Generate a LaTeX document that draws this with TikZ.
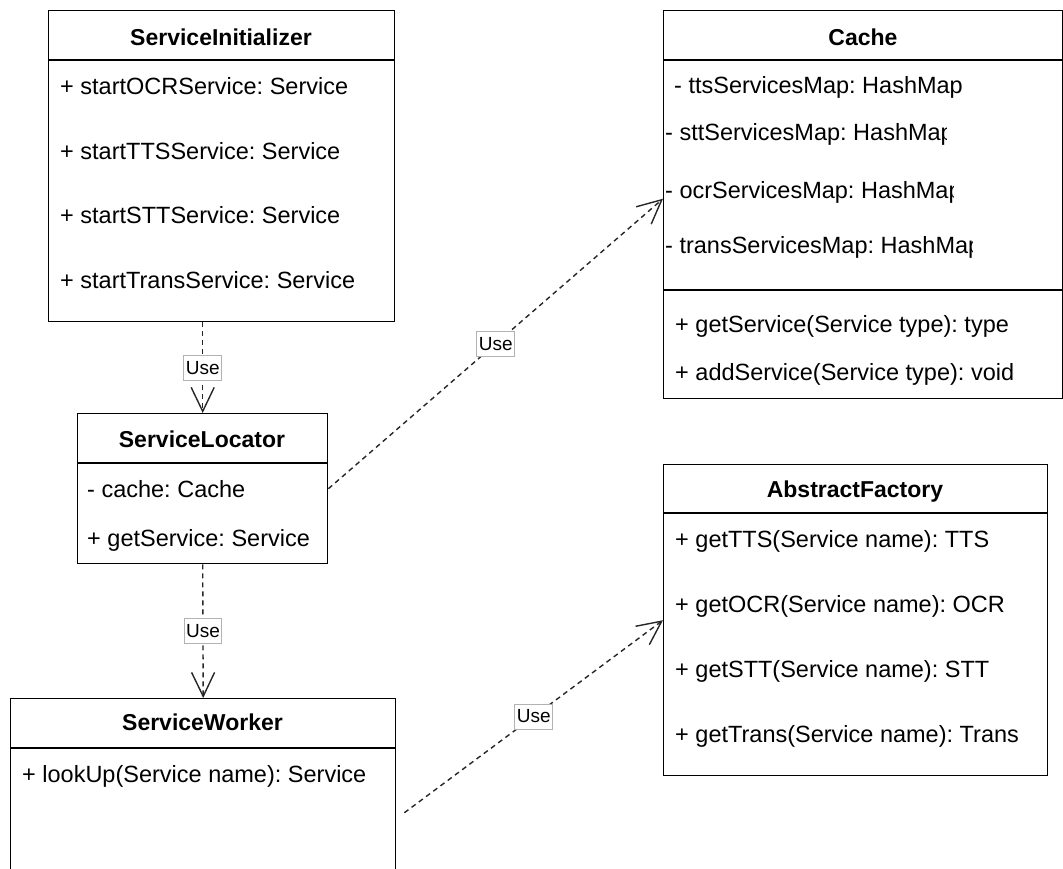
\documentclass[tikz,border=0pt]{standalone}
\usepackage{fontspec}
\setmainfont{Liberation Sans}
\usetikzlibrary{arrows.meta,calc}
\begin{document}
\begin{tikzpicture}[x=1pt,y=-1pt,
  box/.style={draw=black,line width=1.4pt,rectangle,anchor=north west,inner sep=0pt},
  sep/.style={draw=black,line width=1.4pt},
  ttl/.style={font=\fontsize{23}{27}\selectfont\bfseries\frenchspacing,anchor=base,inner sep=0pt},
  row/.style={font=\fontsize{23.5}{27}\selectfont\frenchspacing,anchor=base west,inner sep=0pt},
  uses/.style={draw=black!85,line width=1.4pt,dash pattern=on 5pt off 4pt,-{Straight Barb[length=24pt,width=23pt]}},
  lbl/.style={draw=black!30,solid,line width=0.7pt,fill=white,font=\fontsize{19}{22}\selectfont,inner xsep=2pt,inner ysep=0pt,minimum height=25pt,text=black}
]
\useasboundingbox (0,0) rectangle (1063,868);
\clip (0,0) rectangle (1063,868);

% ServiceInitializer
\node[box,minimum width=346pt,minimum height=311pt] (si) at (48,10) {};
\draw[sep] ($(si.north west)+(0,50)$) -- ($(si.north east)+(0,50)$);
\node[ttl] (sit) at (221,45) {ServiceInitializer};
\node[row] (si1) at (60,94) {+ startOCRService: Service};
\node[row] (si2) at (60,159) {+ startTTSService: Service};
\node[row] (si3) at (60,223) {+ startSTTService: Service};
\node[row] (si4) at (60,288) {+ startTransService: Service};

% ServiceLocator
\node[box,minimum width=250pt,minimum height=150pt] (sl) at (77,413) {};
\draw[sep] ($(sl.north west)+(0,50)$) -- ($(sl.north east)+(0,50)$);
\node[ttl] (slt) at (202,447) {ServiceLocator};
\node[row] (sl1) at (87,497) {- cache: Cache};
\node[row] (sl2) at (87,546) {+ getService: Service};

% ServiceWorker
\node[box,minimum width=385pt,minimum height=228pt] (sw) at (10,698) {};
\draw[sep] ($(sw.north west)+(0,50)$) -- ($(sw.north east)+(0,50)$);
\node[ttl] (swt) at (202.5,730) {ServiceWorker};
\node[row] (sw1) at (22,782) {+ lookUp(Service name): Service};

% Cache
\node[box,minimum width=399pt,minimum height=388pt] (cache) at (663,10) {};
\draw[sep] ($(cache.north west)+(0,50)$) -- ($(cache.north east)+(0,50)$);
\draw[sep] ($(cache.north west)+(0,280)$) -- ($(cache.north east)+(0,280)$);
\node[ttl] (cat) at (863,45) {Cache};
\node[row] (ca1) at (674,93) {- ttsServicesMap: HashMap};
\begin{scope}
\clip (663,100) rectangle (946,165);
\node[row] (ca2) at (665,140) {- sttServicesMap: HashMap};
\end{scope}
\begin{scope}
\clip (663,160) rectangle (953,220);
\node[row] (ca3) at (665,198) {- ocrServicesMap: HashMap};
\end{scope}
\begin{scope}
\clip (663,215) rectangle (972,275);
\node[row] (ca4) at (665,253) {- transServicesMap: HashMap};
\end{scope}
\node[row] (ca5) at (675,332) {+ getService(Service type): type};
\node[row] (ca6) at (675,380) {+ addService(Service type): void};

% AbstractFactory
\node[box,minimum width=384pt,minimum height=311pt] (af) at (663,464) {};
\draw[sep] ($(af.north west)+(0,49)$) -- ($(af.north east)+(0,49)$);
\node[ttl] (aft) at (855,497) {AbstractFactory};
\node[row] (af1) at (675,547) {+ getTTS(Service name): TTS};
\node[row] (af2) at (675,612) {+ getOCR(Service name): OCR};
\node[row] (af3) at (675,677) {+ getSTT(Service name): STT};
\node[row] (af4) at (675,742) {+ getTrans(Service name): Trans};

% connectors
\draw[uses] (sl.north |- si.south) -- node[lbl] (u1) {Use} (sl.north);
\draw[uses] (sl.east) -- node[lbl] (u2) {Use} ([yshift=6pt]cache.west);
\draw[uses] (sl.south) -- node[lbl] (u3) {Use} (sw.north);
\draw[uses] ([xshift=8pt]sw.east) -- node[lbl] (u4) {Use} (af.west);
\end{tikzpicture}
\end{document}
